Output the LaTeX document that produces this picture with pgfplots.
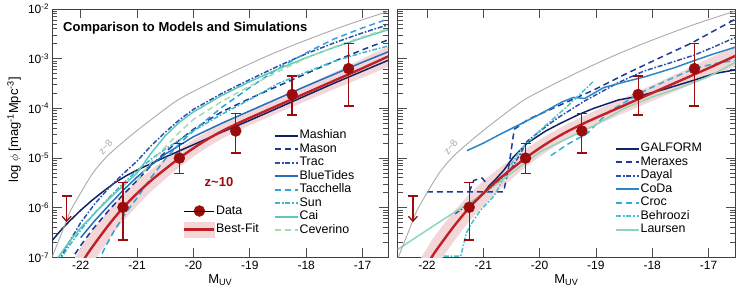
\documentclass[border=0pt]{standalone}
\usepackage{pgfplots}
\pgfplotsset{compat=1.18}
\usepackage{fontspec}
\setmainfont{Liberation Sans}
\usetikzlibrary{arrows.meta}
\definecolor{datared}{RGB}{155,12,12}
\definecolor{fitred}{RGB}{192,32,38}
\definecolor{bandpink}{RGB}{243,214,216}
\definecolor{zgray}{RGB}{170,170,170}
\definecolor{cmashian}{RGB}{16,36,100}
\definecolor{cmason}{RGB}{31,58,150}
\definecolor{ctrac}{RGB}{44,80,175}
\definecolor{cbluet}{RGB}{36,112,190}
\definecolor{ctacc}{RGB}{47,162,214}
\definecolor{csun}{RGB}{58,186,200}
\definecolor{ccai}{RGB}{92,202,184}
\definecolor{cceve}{RGB}{168,220,176}
\definecolor{ccoda}{RGB}{43,134,198}
\definecolor{ccroc}{RGB}{50,172,216}
\definecolor{cbehr}{RGB}{70,195,204}
\definecolor{claur}{RGB}{143,214,184}
\tikzset{
  dsh/.style={dash pattern=on 6pt off 4pt},
  dshdot/.style={dash pattern=on 5pt off 1.8pt on 1.6pt off 1.8pt},
  model/.style={line width=1.5pt, line join=round},
}
\newcommand{\leg}[2]{\addlegendimage{legend image code/.code={\draw[line width=2pt,#1] (0pt,0pt) -- (23pt,0pt);}}\addlegendentry{#2}}
\pgfplotsset{
  panel/.style={
    scale only axis, height=248.5pt,
    ymin=-7, ymax=-2,
    xtick={-22,-21,-20,-19,-18,-17},
    xticklabels={-22,-21,-20,-19,-18,-17},
    ytick={-7,-6,-5,-4,-3,-2},
    minor ytick={-6.699,-6.523,-6.398,-6.301,-6.222,-6.155,-6.097,-6.046,
      -5.699,-5.523,-5.398,-5.301,-5.222,-5.155,-5.097,-5.046,
      -4.699,-4.523,-4.398,-4.301,-4.222,-4.155,-4.097,-4.046,
      -3.699,-3.523,-3.398,-3.301,-3.222,-3.155,-3.097,-3.046,
      -2.699,-2.523,-2.398,-2.301,-2.222,-2.155,-2.097,-2.046},
    tick pos=both, xticklabel pos=bottom, yticklabel pos=left,
    tick align=inside, major tick length=9pt, minor tick length=5pt,
    axis line style={draw=black!75, line width=0.8pt},
    every tick/.style={black!70, line width=0.8pt},
    tick label style={font=\fontsize{12}{14}\selectfont},
    xlabel={M\textsubscript{UV}},
    xlabel style={font=\fontsize{13}{14}\selectfont, at={(axis description cs:0.5,0)}, anchor=north, yshift=-17pt, inner sep=0pt},
    legend cell align=left,
    legend style={draw=none, fill=none, inner sep=0pt, row sep=0pt,
      nodes={inner sep=0.5pt, text height=9.5pt, text depth=3pt, font=\fontsize{12.4}{13}\selectfont}},
  },
}
\newcommand{\zeight}{%
  \addplot[zgray, line width=0.9pt, smooth, tension=0.5, forget plot] coordinates {
    (-22.55,-7.1) (-22.5,-6.97) (-22.3,-6.4) (-22.18,-6.06) (-22.0,-5.7) (-21.77,-5.28)
    (-21.5,-4.93) (-21.06,-4.5) (-20.5,-4.01) (-20.17,-3.76) (-19.35,-3.29) (-18.7,-2.95)
    (-18.1,-2.67) (-17.3,-2.33) (-16.66,-2.09) (-16.5,-2.03)};
}
\newcommand{\bandplot}{%
  \addplot[fill=bandpink, draw=none, forget plot] coordinates {
    (-22.2,-7.19) (-21.92,-6.66) (-21.75,-6.40) (-21.5,-6.04) (-21.25,-5.73) (-21.0,-5.46)
    (-20.75,-5.23) (-20.5,-5.02) (-20.25,-4.82) (-20.0,-4.63) (-19.75,-4.46) (-19.5,-4.31)
    (-19.25,-4.17) (-19.0,-4.04) (-18.5,-3.79) (-18.0,-3.53) (-17.5,-3.27) (-17.0,-3.0) (-16.5,-2.72)
    (-16.5,-3.14) (-17.0,-3.38) (-17.5,-3.61) (-18.0,-3.85) (-18.5,-4.09) (-19.0,-4.34) (-19.25,-4.47)
    (-19.5,-4.61) (-19.75,-4.78) (-20.0,-4.97) (-20.25,-5.18) (-20.5,-5.42) (-20.75,-5.67)
    (-21.0,-5.96) (-21.25,-6.27) (-21.5,-6.64) (-21.75,-7.04) (-21.92,-7.34) (-22.2,-7.91)} -- cycle;
}
\newcommand{\fitanddata}{%
  \addplot[fitred, line width=2.4pt, smooth, tension=0.5, forget plot] coordinates {
    (-22.2,-7.55) (-21.92,-7.0) (-21.75,-6.72) (-21.5,-6.34) (-21.25,-6.0) (-21.0,-5.71)
    (-20.75,-5.45) (-20.5,-5.22) (-20.25,-5.0) (-20.0,-4.80) (-19.75,-4.62) (-19.5,-4.46)
    (-19.25,-4.32) (-19.0,-4.19) (-18.5,-3.94) (-18.0,-3.69) (-17.5,-3.44) (-17.0,-3.19) (-16.5,-2.93)};
  \addplot[datared, only marks, mark=*, mark size=5.5pt, forget plot,
    error bars/.cd, y dir=both, y explicit,
    error bar style={line width=1.3pt, datared},
    error mark options={rotate=90, mark size=5pt, line width=1.3pt, datared}]
    coordinates {
    (-21.25,-5.99) += (0,0.50) -= (0,0.66)
    (-20.25,-5.00) += (0,0.30) -= (0,0.31)
    (-19.25,-4.455) += (0,0.355) -= (0,0.445)
    (-18.25,-3.72) += (0,0.37) -= (0,0.41)
    (-17.25,-3.20) += (0,0.51) -= (0,0.75)};
  \addplot[datared, only marks, mark=-, mark size=5pt, mark options={line width=1.3pt}, forget plot,
    error bars/.cd, y dir=minus, y explicit, error mark=none,
    error bar style={line width=1.3pt, datared, -{Straight Barb[length=5pt,width=9pt,line width=1.3pt]}}]
    coordinates {(-22.25,-5.76) -= (0,0.53)};
}
\begin{document}
\begin{tikzpicture}[x=1pt,y=1pt]
\useasboundingbox (0,0) rectangle (739,296);
% ---------------- left panel
\begin{axis}[panel, at={(52.5pt,38.5pt)}, anchor=south west, width=335.5pt,
  xmin=-22.5, xmax=-16.55,
  yticklabels={10\textsuperscript{-7},10\textsuperscript{-6},10\textsuperscript{-5},10\textsuperscript{-4},10\textsuperscript{-3},10\textsuperscript{-2}},
  legend style={at={(0.660,0.518)}, anchor=north west}]
\bandplot
\addplot[model, cmashian, forget plot] coordinates {(-22.6,-6.78) (-22.5,-6.65) (-22.35,-6.45) (-22.2,-6.27) (-22.0,-6.05) (-21.8,-5.85) (-21.6,-5.67) (-21.4,-5.5) (-21.2,-5.36) (-21.0,-5.24) (-20.75,-5.11) (-20.5,-4.98) (-20.0,-4.73) (-19.5,-4.48) (-19.0,-4.24) (-18.5,-3.99) (-18.0,-3.74) (-17.5,-3.49) (-17.0,-3.25) (-16.5,-3.01)};
\addplot[model, cmason, dsh, forget plot] coordinates {(-22.2,-7.1) (-22.0,-6.76) (-21.8,-6.45) (-21.5,-6.05) (-21.25,-5.74) (-21.0,-5.45) (-20.75,-5.15) (-20.5,-4.88) (-20.25,-4.64) (-20.0,-4.42) (-19.5,-4.07) (-19.0,-3.8) (-18.5,-3.55) (-18.0,-3.3) (-17.5,-3.05) (-17.0,-2.82) (-16.5,-2.6)};
\addplot[model, ctrac, dshdot, forget plot] coordinates {(-22.4,-7.1) (-22.2,-6.68) (-22.0,-6.3) (-21.75,-5.92) (-21.5,-5.6) (-21.25,-5.32) (-21.0,-5.06) (-20.75,-4.75) (-20.5,-4.48) (-20.25,-4.23) (-20.0,-4.02) (-19.5,-3.7) (-19.0,-3.42) (-18.5,-3.15) (-18.0,-2.9) (-17.5,-2.68) (-17.0,-2.48) (-16.5,-2.3)};
\addplot[model, cbluet, forget plot] coordinates {(-22.0,-6.6) (-21.75,-6.26) (-21.5,-5.95) (-21.25,-5.65) (-21.0,-5.38) (-20.75,-5.14) (-20.5,-4.92) (-20.0,-4.57) (-19.5,-4.3) (-19.0,-4.05) (-18.5,-3.8) (-18.0,-3.55) (-17.5,-3.31) (-17.0,-3.07) (-16.5,-2.84)};
\addplot[model, ctacc, dsh, forget plot] coordinates {(-21.7,-7.1) (-21.55,-6.76) (-21.4,-6.45) (-21.2,-6.1) (-21.0,-5.8) (-20.75,-5.39) (-20.5,-5.02) (-20.25,-4.71) (-20.0,-4.45) (-19.5,-3.98) (-19.0,-3.58) (-18.5,-3.2) (-18.0,-2.88) (-17.5,-2.6) (-17.0,-2.38) (-16.5,-2.18)};
\addplot[model, csun, dshdot, forget plot] coordinates {(-22.4,-7.1) (-22.2,-6.76) (-22.0,-6.45) (-21.75,-6.1) (-21.5,-5.8) (-21.25,-5.51) (-21.0,-5.25) (-20.75,-5.02) (-20.5,-4.82) (-20.0,-4.45) (-19.5,-4.12) (-19.0,-3.82) (-18.5,-3.5) (-18.0,-3.27) (-17.5,-3.05) (-17.0,-2.88) (-16.5,-2.73)};
\addplot[model, ccai, forget plot] coordinates {(-22.4,-7.0) (-22.2,-6.68) (-22.0,-6.4) (-21.7,-6.05) (-21.5,-5.82) (-21.25,-5.56) (-21.0,-5.3) (-20.75,-4.9) (-20.5,-4.55) (-20.25,-4.28) (-20.0,-4.07) (-19.5,-3.74) (-19.0,-3.46) (-18.5,-3.21) (-18.0,-2.98) (-17.5,-2.77) (-17.0,-2.58) (-16.5,-2.4)};
\addplot[model, cceve, dsh, forget plot] coordinates {(-21.0,-5.45) (-20.75,-5.08) (-20.5,-4.78) (-20.25,-4.48) (-20.0,-4.22) (-19.5,-3.86) (-19.0,-3.55) (-18.5,-3.26) (-18.0,-2.99) (-17.5,-2.76) (-17.0,-2.56) (-16.5,-2.38)};
\leg{cmashian}{Mashian}
\leg{cmason,dsh}{Mason}
\leg{ctrac,dshdot}{Trac}
\leg{cbluet}{BlueTides}
\leg{ctacc,dsh}{Tacchella}
\leg{csun,dshdot}{Sun}
\leg{ccai}{Cai}
\leg{cceve,dsh}{Ceverino}
\zeight
\fitanddata
\node[anchor=west, inner sep=0pt, font=\bfseries\fontsize{13}{14}\selectfont] at (axis cs:-22.314,-2.382) {Comparison to Models and Simulations};
\node[font=\bfseries\fontsize{13}{14}\selectfont, text=datared] at (axis cs:-19.547,-5.481) {z\textasciitilde 10};
\node[font=\fontsize{10}{11}\selectfont, text=zgray, rotate=52] at (axis cs:-21.56,-4.78) {z\textasciitilde 8};
\end{axis}
% ---------------- data legend (left)
\begin{axis}[at={(52.5pt,38.5pt)}, anchor=south west, scale only axis, width=335.5pt, height=248.5pt,
  hide axis, xmin=0, xmax=1, ymin=0, ymax=1,
  legend cell align=left,
  legend style={draw=none, fill=none, inner sep=0pt, row sep=4.5pt, at={(0.389,0.213)}, anchor=north west,
    nodes={inner sep=0.5pt, text height=9pt, text depth=2.5pt, font=\fontsize{12.4}{13}\selectfont}}]
\addlegendimage{legend image code/.code={\fill[datared] (15pt,0pt) circle (5.5pt);\path (0pt,0pt) -- (30pt,0pt);}}
\addlegendentry{Data}
\addlegendimage{legend image code/.code={\fill[bandpink] (0pt,-7.5pt) rectangle (30pt,7.5pt);\draw[fitred, line width=2.4pt] (0pt,0pt) -- (30pt,0pt);}}
\addlegendentry{Best-Fit}
\end{axis}
% ---------------- right panel
\begin{axis}[panel, at={(397.7pt,38.5pt)}, anchor=south west, width=337.3pt,
  xmin=-22.52, xmax=-16.53, yticklabels={},
  legend style={at={(0.644,0.466)}, anchor=north west}]
\bandplot
\addplot[model, cmashian, forget plot] coordinates {(-21.0,-5.72) (-20.9,-5.56) (-20.8,-5.45) (-20.64,-5.25) (-20.46,-4.97) (-20.22,-4.70) (-19.9,-4.46) (-19.63,-4.3) (-19.3,-4.12) (-19.04,-4.0) (-18.6,-3.83) (-18.26,-3.76) (-17.8,-3.62) (-17.25,-3.43) (-16.9,-3.3) (-16.5,-3.22)};
\addplot[model, cmason, dsh, forget plot] coordinates {(-22.0,-5.68) (-20.64,-5.68) (-20.55,-5.2) (-20.45,-4.42) (-20.2,-4.22) (-19.63,-3.93) (-19.04,-3.63) (-18.44,-3.29) (-17.9,-3.0) (-17.31,-2.69) (-16.5,-2.19)};
\addplot[model, ctrac, dshdot, forget plot] coordinates {(-21.5,-6.12) (-21.25,-5.92) (-21.0,-5.72) (-20.81,-5.55) (-20.52,-5.24) (-20.35,-4.93) (-20.22,-4.66) (-19.95,-4.42) (-19.69,-4.2) (-19.2,-3.85) (-18.6,-3.48) (-18.15,-3.25) (-17.7,-3.09) (-17.26,-2.93) (-16.9,-2.76) (-16.5,-2.56)};
\addplot[model, ccoda, forget plot] coordinates {(-21.29,-4.85) (-21.0,-4.7) (-20.7,-4.52) (-20.4,-4.35) (-20.0,-4.12) (-19.6,-3.87) (-19.4,-3.78) (-19.2,-3.8) (-18.86,-3.58) (-18.5,-3.47) (-18.15,-3.37) (-17.6,-3.18) (-17.26,-3.04) (-16.9,-2.9) (-16.5,-2.76)};
\addplot[model, ccroc, dsh, forget plot] coordinates {(-19.8,-4.95) (-19.5,-4.72) (-19.15,-4.5) (-18.95,-4.27) (-18.75,-4.05) (-18.4,-3.82) (-18.09,-3.62) (-17.7,-3.42) (-17.26,-3.2) (-16.9,-3.1) (-16.5,-3.03)};
\addplot[model, cbehr, dshdot, forget plot] coordinates {(-21.7,-6.97) (-21.4,-6.97) (-21.3,-6.5) (-21.2,-6.3) (-21.05,-6.05) (-20.8,-5.75) (-20.64,-5.4) (-20.46,-5.04) (-20.34,-4.84) (-20.0,-4.45) (-19.5,-3.95) (-19.04,-3.45)};
\addplot[model, claur, forget plot] coordinates {(-22.55,-6.86) (-22.0,-6.45) (-21.5,-6.08) (-21.0,-5.72) (-20.5,-5.3) (-20.0,-4.88) (-19.5,-4.6) (-19.0,-4.33) (-18.5,-4.0) (-18.0,-3.77) (-17.5,-3.58) (-17.0,-3.36) (-16.5,-3.06)};
\addplot[model, cmason, dsh, forget plot] coordinates {(-21.25,-5.68) (-21.17,-5.45) (-21.02,-5.40) (-20.95,-5.5)};
\leg{cmashian}{GALFORM}
\leg{cmason,dsh}{Meraxes}
\leg{ctrac,dshdot}{Dayal}
\leg{ccoda}{CoDa}
\leg{ccroc,dsh}{Croc}
\leg{cbehr,dshdot}{Behroozi}
\leg{claur}{Laursen}
\zeight
\fitanddata
\node[font=\fontsize{10}{11}\selectfont, text=zgray, rotate=52] at (axis cs:-21.58,-4.78) {z\textasciitilde 8};
\end{axis}
% y label
\node[rotate=90, font=\fontsize{13}{14}\selectfont] at (14pt,166pt) {log $\phi$ [mag\textsuperscript{-1}Mpc\textsuperscript{-3}]};
\end{tikzpicture}
\end{document}
